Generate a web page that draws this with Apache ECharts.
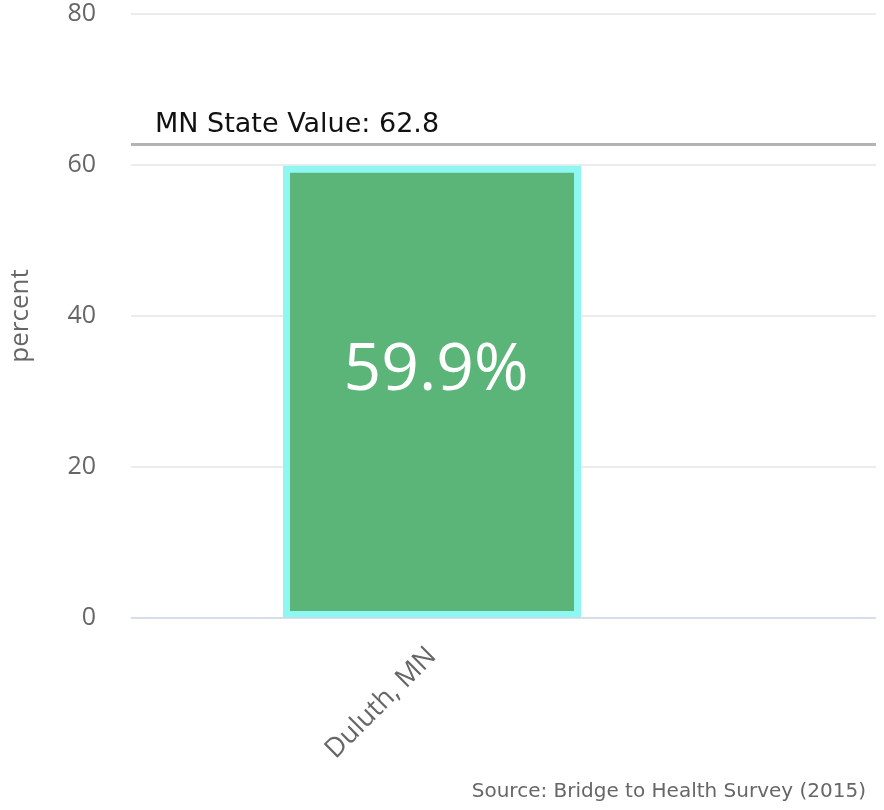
<!DOCTYPE html>
<html><head><meta charset="utf-8">
<script src="https://cdn.jsdelivr.net/npm/echarts@6/dist/echarts.min.js"></script>
<style>html,body{margin:0;padding:0;background:#fff}#c{width:884px;height:810px}</style>
</head><body><div id="c"></div>
<script>
const categories = ['Duluth, MN'];
const values = [59.9];
const stateValue = 62.8;
const stateLabel = 'MN State Value: ';
const yTicks = [0, 20, 40, 60, 80];
const sourceText = 'Source: Bridge to Health Survey (2015)';

const chart = echarts.init(document.getElementById('c'));
chart.setOption({
  animation: false,
  grid: [
    {left: 130, right: 8, top: 14, bottom: 192},
    {left: 130, right: 150, top: 14, bottom: 192}
  ],
  xAxis: [
    {gridIndex: 0, type: 'value', min: 0, max: 1, show: false},
    {gridIndex: 1, type: 'category', data: categories,
     axisLine: {show: false}, axisTick: {show: false},
     axisLabel: {rotate: 45, fontSize: 27, color: '#666', fontFamily: 'Open Sans', margin: 34}}
  ],
  yAxis: [
    {gridIndex: 0, type: 'value', min: yTicks[0], max: yTicks[yTicks.length-1], interval: 20,
     name: 'percent', nameLocation: 'middle', nameGap: 97, nameRotate: 90,
     nameTextStyle: {fontSize: 26, color: '#666', fontFamily: 'Open Sans'},
     axisLine: {show: false}, axisTick: {show: false},
     axisLabel: {fontSize: 25, color: '#666', fontFamily: 'Open Sans', margin: 35},
     splitLine: {lineStyle: {color: '#e6e6e6', width: 1.5}}},
    {gridIndex: 1, type: 'value', min: yTicks[0], max: yTicks[yTicks.length-1], interval: 20, show: false}
  ],
  series: [
    {type: 'line', xAxisIndex: 0, yAxisIndex: 0, data: [],
     markLine: {symbol: 'none', silent: true,
       lineStyle: {color: '#b3b3b3', width: 3, type: 'solid'},
       label: {show: true, position: 'insideStartTop', formatter: stateLabel + stateValue,
         color: '#111', fontSize: 27, fontFamily: 'DejaVu Sans', distance: [24, 5]},
       data: [{yAxis: stateValue}]}},
    {type: 'line', xAxisIndex: 0, yAxisIndex: 0, data: [[0,0],[1,0]], symbol: 'none', silent: true,
     lineStyle: {color: '#ccd6eb', width: 1.5}},
    {type: 'bar', xAxisIndex: 1, yAxisIndex: 1, data: values, barWidth: 298,
     itemStyle: {color: '#5cb578', borderColor: '#8ff7f2', borderWidth: 7},
     label: {show: true, position: ['50%', 205], offset: [4, 0], align: 'center', verticalAlign: 'middle',
       formatter: p => p.value + '%', color: '#fff', fontSize: 66, fontFamily: 'Open Sans'}}
  ],
  graphic: [{type: 'text', right: 18, top: 782,
    style: {text: sourceText, fontSize: 20, fill: '#666', fontFamily: 'DejaVu Sans'}}]
});
</script></body></html>
